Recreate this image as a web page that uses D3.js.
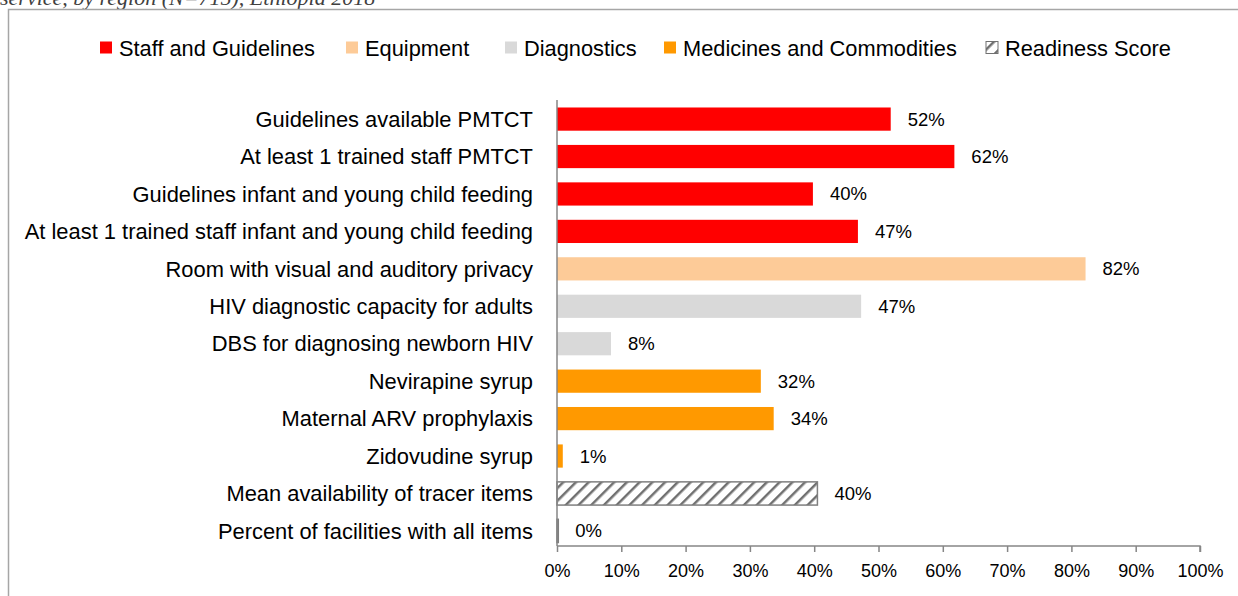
<!doctype html>
<html>
<head>
  <script src="https://d3js.org/d3.v7.min.js"></script>
  <style>
    body { margin: 0; background: #fff; }
    svg { display: block; font-family: "Liberation Sans", Arial, sans-serif; }
  </style>
</head>
<body>
<svg width="1238" height="596"></svg>
<script>
  // data
  var categories = [
    "Guidelines available PMTCT",
    "At least 1 trained staff PMTCT",
    "Guidelines infant and young child feeding",
    "At least 1 trained staff infant and young child feeding",
    "Room with visual and auditory privacy",
    "HIV diagnostic capacity for adults",
    "DBS for diagnosing newborn HIV",
    "Nevirapine syrup",
    "Maternal ARV prophylaxis",
    "Zidovudine syrup",
    "Mean availability of tracer items",
    "Percent of facilities with all items"
  ]
  var values = [51.9, 61.8, 39.8, 46.8, 82.2, 47.3, 8.4, 31.7, 33.7, 0.9, 40.5, 0.2]
  var valueLabels = ["52%", "62%", "40%", "47%", "82%", "47%", "8%", "32%", "34%", "1%", "40%", "0%"]
  var groups = ["staff", "staff", "staff", "staff", "equip", "diag", "diag", "med", "med", "med", "ready", "ready"]
  var legendNames = ["Staff and Guidelines", "Equipment", "Diagnostics", "Medicines and Commodities", "Readiness Score"]
  var legendKeys = ["staff", "equip", "diag", "med", "ready"]
  var tickValues = [0, 10, 20, 30, 40, 50, 60, 70, 80, 90, 100]

  var svg = d3.select("svg")

  var defs = svg.append("defs")
  var pat = defs.append("pattern")
    .attr("id", "hatch")
    .attr("patternUnits", "userSpaceOnUse")
    .attr("width", 9)
    .attr("height", 9)
    .attr("patternTransform", "rotate(45)")
  pat.append("rect").attr("width", 9).attr("height", 9).attr("fill", "#fff")
  pat.append("line")
    .attr("x1", 0).attr("y1", 0).attr("x2", 0).attr("y2", 9)
    .attr("stroke", "#707070").attr("stroke-width", 5)

  var color = d3.scaleOrdinal()
    .domain(legendKeys)
    .range(["#ff0000", "#fdcb98", "#d9d9d9", "#ff9900", "url(#hatch)"])

  // caption (cut off at the top like in the source) + frame
  svg.append("text")
    .attr("x", 0)
    .attr("y", 5)
    .style("font-family", "'Liberation Serif', 'DejaVu Serif', serif")
    .style("font-style", "italic")
    .style("font-size", "22px")
    .attr("fill", "#404040")
    .text("service, by region (N=715), Ethiopia 2018")

  svg.append("path")
    .attr("d", "M8.5,600 V9.5 H1240")
    .attr("fill", "none")
    .attr("stroke", "#a6a6a6")
    .attr("stroke-width", 1.5)

  // legend
  var legendX = [100, 346, 505, 664, 986]
  var legend = svg.append("g")
  legendKeys.forEach(function(k, i) {
    var g = legend.append("g").attr("transform", "translate(" + legendX[i] + ",48)")
    g.append("rect")
      .attr("x", 0).attr("y", -6.5)
      .attr("width", 12).attr("height", 12)
      .attr("fill", color(k))
      .attr("stroke", k == "ready" ? "#707070" : "none")
    g.append("text")
      .attr("x", 19)
      .attr("y", 8)
      .style("font-size", "21.8px")
      .attr("fill", "#000")
      .text(legendNames[i])
  })

  var x = d3.scaleLinear().domain([0, 100]).range([557, 1200])
  var y = d3.scaleBand().domain(categories).range([100, 550]).paddingInner(0.38).paddingOuter(0.2)

  // bars
  svg.append("g").selectAll("rect")
    .data(categories)
    .enter()
    .append("rect")
    .attr("x", x(0))
    .attr("y", function(d) { return y(d) })
    .attr("height", y.bandwidth())
    .attr("width", function(d, i) { return x(values[i]) - x(0) })
    .attr("fill", function(d, i) { return color(groups[i]) })
    .attr("stroke", function(d, i) { return groups[i] == "ready" ? "#7f7f7f" : "none" })
    .attr("stroke-width", 1.5)

  // value labels
  svg.append("g").selectAll("text")
    .data(categories)
    .enter()
    .append("text")
    .attr("x", function(d, i) { return x(values[i]) + 17 })
    .attr("y", function(d) { return y(d) + y.bandwidth() / 2 })
    .attr("dy", "0.35em")
    .style("font-size", "18.5px")
    .attr("fill", "#000")
    .text(function(d, i) { return valueLabels[i] })

  // category labels
  svg.append("g").selectAll("text")
    .data(categories)
    .enter()
    .append("text")
    .attr("x", 533)
    .attr("y", function(d) { return y(d) + y.bandwidth() / 2 })
    .attr("dy", "0.35em")
    .attr("text-anchor", "end")
    .style("font-size", "21.9px")
    .attr("fill", "#000")
    .text(function(d) { return d })

  // axes
  var xAxis = d3.axisBottom(x)
    .tickValues(tickValues)
    .tickSize(6)
    .tickPadding(12)
    .tickFormat(function(d) { return d + "%" })
  var gx = svg.append("g")
    .attr("transform", "translate(0,546)")
    .call(xAxis)
  gx.select(".domain").attr("stroke", "#868686").attr("stroke-width", 1.5).attr("d", "M557,0V0H1200V6")
  gx.selectAll(".tick line").attr("stroke", "#868686").attr("stroke-width", 1.5)
  gx.selectAll(".tick text").style("font-size", "18px").attr("fill", "#000").style("font-family", "'Liberation Sans', Arial, sans-serif")

  svg.append("line")
    .attr("x1", x(0)).attr("x2", x(0))
    .attr("y1", 100).attr("y2", 546)
    .attr("stroke", "#868686")
    .attr("stroke-width", 1.5)
</script>
</body>
</html>
